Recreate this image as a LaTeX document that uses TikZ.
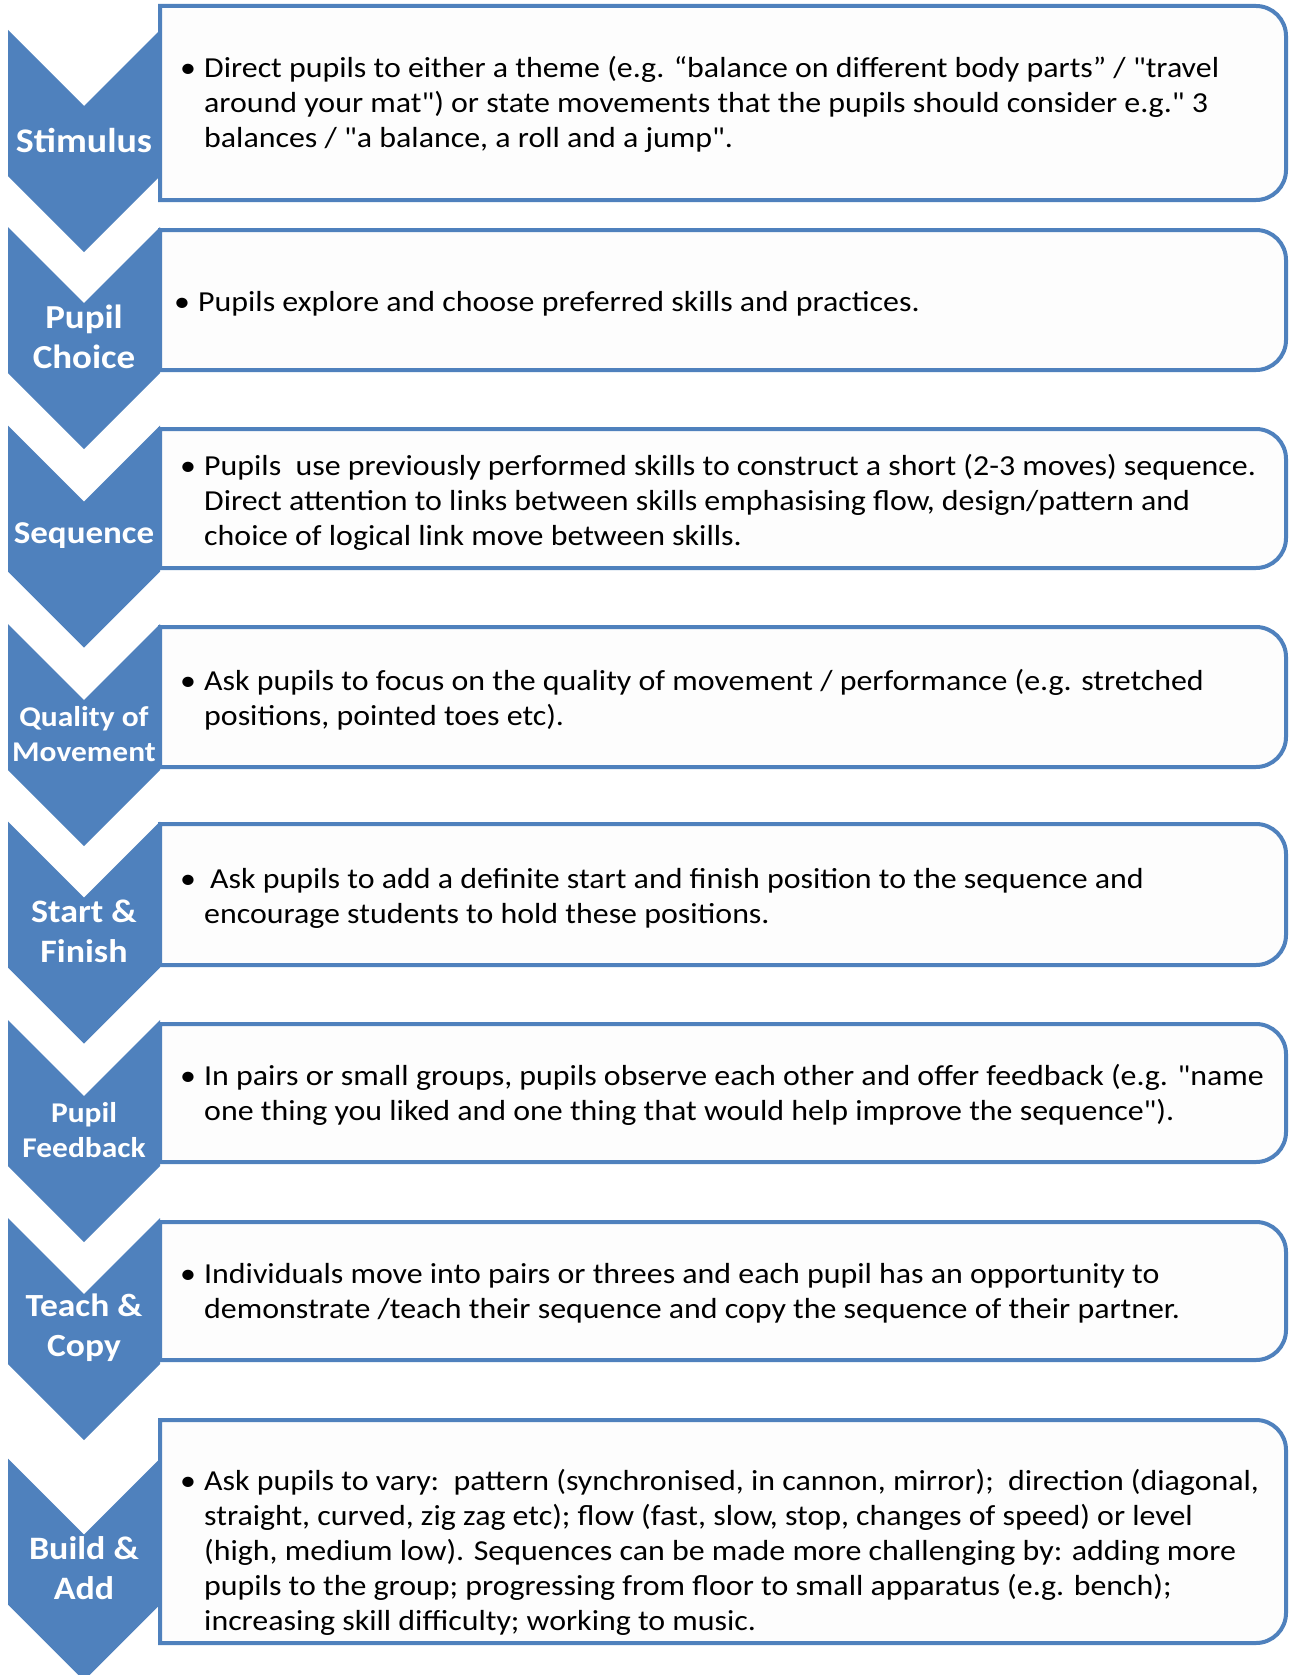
\documentclass[tikz,border=0pt]{standalone}
\usepackage{fontspec}
\setmainfont{Carlito}[Ligatures=TeXOff,FakeStretch=1.1]
\definecolor{accent}{HTML}{4F81BD}
\definecolor{panelfill}{HTML}{FDFDFD}
\newcommand\mychev[1]{\fill[chev] (8,{#1-73}) -- (84,{#1+3}) -- (160,{#1-73}) -- (160,{#1+73}) -- (84,{#1+149}) -- (8,{#1+73}) -- cycle;}
\newcommand\mypanel[2]{\draw[panel] (160,#1) -- (1256,#1) arc[start angle=-90,end angle=0,radius=30] -- (1286,{#2-30}) arc[start angle=0,end angle=90,radius=30] -- (160,#2) -- cycle;}
\newcommand\bul{\makebox[24pt][l]{•}}
\begin{document}
\begin{tikzpicture}[x=1pt,y=-1pt,
  chev/.style={fill=accent,draw=none},
  panel/.style={draw=accent,line width=4pt,fill=panelfill},
  lbl/.style={text=white,align=center,inner sep=0pt},
  body/.style={anchor=west,inner sep=0pt,text=black,font=\fontsize{29}{35}\selectfont}]
\useasboundingbox (0,0) rectangle (1289,1675);
\clip (0,0) rectangle (1289,1675);
\fill[white] (0,0) rectangle (1289,1675);
% chevrons
\mychev{103}
\mychev{300}
\mychev{498.5}
\mychev{697}
\mychev{894.5}
\mychev{1093}
\mychev{1291}
\mychev{1531.5}
% panels
\mypanel{6}{200}
\mypanel{230}{370}
\mypanel{429}{568}
\mypanel{627}{767}
\mypanel{824}{965}
\mypanel{1024}{1162}
\mypanel{1222}{1360}
\mypanel{1420}{1643}
% labels
\node[lbl,font=\bfseries\fontsize{34.5}{40}\selectfont] (l1) at (84,140) {Stimulus};
\node[lbl,font=\bfseries\fontsize{33.6}{40}\selectfont] (l2) at (84,337) {Pupil\\Choice};
\node[lbl,font=\bfseries\fontsize{31.8}{40}\selectfont] (l3) at (84,535.5) {Sequence};
\node[lbl,font=\bfseries\fontsize{28.6}{35}\selectfont] (l4) at (84,734) {Quality of\\Movement};
\node[lbl,font=\bfseries\fontsize{32.7}{40}\selectfont] (l5) at (84,931.5) {Start \&\\Finish};
\node[lbl,font=\bfseries\fontsize{28.6}{35}\selectfont] (l6) at (84,1130) {Pupil\\Feedback};
\node[lbl,font=\bfseries\fontsize{32.3}{40}\selectfont] (l7) at (84,1328) {Teach \&\\Copy};
\node[lbl,font=\bfseries\fontsize{32.7}{40}\selectfont] (l8) at (84,1568) {Build \&\\Add};
% body texts
\node[body] (t1) at (180,106) {\begin{tabular}{@{}l@{}l@{}}\bul&Direct pupils to either a theme (e.g. “balance on different body parts” / "travel\\&around your mat") or state movements that the pupils should consider e.g." 3\\&balances / "a balance, a roll and a jump".\end{tabular}};
\node[body] (t2) at (174,304) {\begin{tabular}{@{}l@{}l@{}}\bul&Pupils explore and choose preferred skills and practices.\end{tabular}};
\node[body] (t3) at (180,503) {\begin{tabular}{@{}l@{}l@{}}\bul&Pupils\ \ use previously performed skills to construct a short (2-3 moves) sequence.\\&Direct attention to links between skills emphasising flow, design/pattern and\\&choice of logical link move between skills.\end{tabular}};
\node[body] (t4) at (180,700.5) {\begin{tabular}{@{}l@{}l@{}}\bul&Ask pupils to focus on the quality of movement / performance (e.g. stretched\\&positions, pointed toes etc).\end{tabular}};
\node[body] (t5) at (180,898.5) {\begin{tabular}{@{}l@{}l@{}}\bul&\hspace*{6pt}Ask pupils to add a definite start and finish position to the sequence and\\&encourage students to hold these positions.\end{tabular}};
\node[body] (t6) at (180,1095.5) {\begin{tabular}{@{}l@{}l@{}}\bul&In pairs or small groups, pupils observe each other and offer feedback (e.g. "name\\&one thing you liked and one thing that would help improve the sequence").\end{tabular}};
\node[body] (t7) at (180,1293.5) {\begin{tabular}{@{}l@{}l@{}}\bul&Individuals move into pairs or threes and each pupil has an opportunity to\\&demonstrate /teach their sequence and copy the sequence of their partner.\end{tabular}};
\node[body] (t8) at (180,1553) {\begin{tabular}{@{}l@{}l@{}}\bul&Ask pupils to vary:\ \ pattern (synchronised, in cannon, mirror);\ \ direction (diagonal,\\&straight, curved, zig zag etc); flow (fast, slow, stop, changes of speed) or level\\&(high, medium low). Sequences can be made more challenging by: adding more\\&pupils to the group; progressing from floor to small apparatus (e.g. bench);\\&increasing skill difficulty; working to music.\end{tabular}};
\end{tikzpicture}
\end{document}
